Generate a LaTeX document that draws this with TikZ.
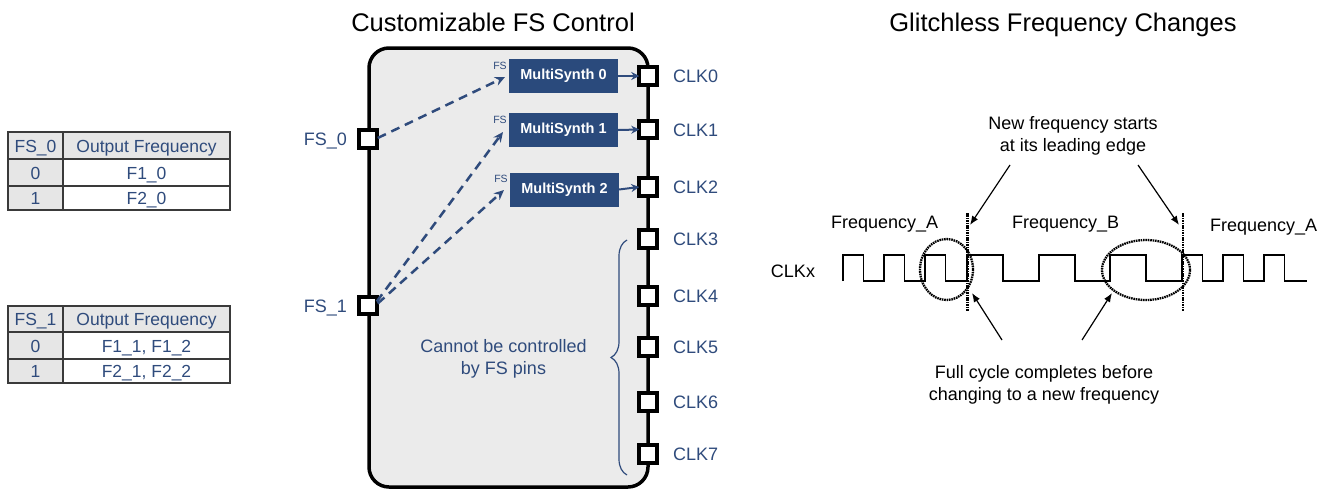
\documentclass[tikz,border=0pt]{standalone}
\usepackage{fontspec}
\setmainfont{Liberation Sans}
\usetikzlibrary{arrows.meta,calc,decorations.pathreplacing}
\definecolor{txtblue}{HTML}{2F4B7C}
\definecolor{msblue}{HTML}{2A4A7C}
\definecolor{blockgray}{HTML}{EBEBEB}
\definecolor{cellgray}{HTML}{E6E6E6}
\definecolor{tblline}{HTML}{3A3A3A}
\newcommand{\fsz}[1]{\fontsize{#1}{22}\selectfont}
\begin{document}
\begin{tikzpicture}[x=1pt,y=-1pt,
  every node/.style={inner sep=0pt, outer sep=0pt},
  chipbox/.style={draw=black, line width=3.5pt, fill=blockgray, rounded corners=20pt, minimum width=279pt, minimum height=439pt},
  pinbox/.style={draw=black, line width=3.6pt, fill=white, minimum size=17.5pt},
  lbl/.style={text=txtblue, font=\fsz{18}},
  msbox/.style={fill=msblue, text=white, font=\bfseries\fsz{14.5}, minimum width=109pt, minimum height=34pt},
  fstag/.style={text=txtblue, font=\fsz{10.5}},
  fsarrow/.style={draw=txtblue, line width=2.5pt, dash pattern=on 9pt off 6pt, -{Stealth[length=10pt,width=9pt]}},
  outarrow/.style={draw=txtblue, line width=2pt, -{Stealth[length=8pt,width=8pt]}},
  cell/.style={text=txtblue, font=\fsz{17.5}, anchor=base},
  blk/.style={font=\fsz{18}},
  ttl/.style={font=\fsz{25.5}, anchor=base},
  note/.style={-{Latex[length=9pt,width=7pt]}, line width=1.2pt},
  dottedline/.style={line width=2.3pt, dash pattern=on 1.6pt off 0.8pt},
]
\useasboundingbox (0,0) rectangle (1330,491);

% ---------- Tables ----------
\fill[cellgray] (8,132) rectangle (230,159);
\fill[cellgray] (8,159) rectangle (63,210);
\draw[tblline, line width=1.5pt] (8,132) rectangle (230,210) (8,159) -- (230,159) (8,186) -- (230,186) (63,132) -- (63,210);
\node[cell] (ta11) at (35.5,152) {FS\_0};
\node[cell] (ta12) at (146.5,152) {Output Frequency};
\node[cell] (ta21) at (35.5,179) {0};
\node[cell] (ta22) at (146.5,179) {F1\_0};
\node[cell] (ta31) at (35.5,204.5) {1};
\node[cell] (ta32) at (146.5,204.5) {F2\_0};

\fill[cellgray] (8,306) rectangle (230,332);
\fill[cellgray] (8,332) rectangle (63,383);
\draw[tblline, line width=1.5pt] (8,306) rectangle (230,383) (8,332) -- (230,332) (8,359) -- (230,359) (63,306) -- (63,383);
\node[cell] (tb11) at (35.5,325.5) {FS\_1};
\node[cell] (tb12) at (146.5,325.5) {Output Frequency};
\node[cell] (tb21) at (35.5,352) {0};
\node[cell] (tb22) at (146.5,352) {F1\_1, F1\_2};
\node[cell] (tb31) at (35.5,377.5) {1};
\node[cell] (tb32) at (146.5,377.5) {F2\_1, F2\_2};

% ---------- Block ----------
\node[ttl] (t1) at (493,31) {Customizable FS Control};
\node[chipbox] (chip) at (508.5,267.5) {};

\node[msbox] (ms0) at (563.5,76) {MultiSynth 0};
\node[msbox] (ms1) at (563.5,130) {MultiSynth 1};
\node[msbox] (ms2) at (564.5,189.5) {MultiSynth 2};
\node[fstag] (ms0fs) at ($(ms0.north west)+(-9,7)$) {FS};
\node[fstag] (ms1fs) at ($(ms1.north west)+(-9,7)$) {FS};
\node[fstag] (ms2fs) at ($(ms2.north west)+(-9,6)$) {FS};

\node[pinbox] (fs0) at (368,139) {};
\node[pinbox] (fs1) at (368,305.5) {};
\node[lbl, anchor=base east] (fs0l) at (347,145.5) {FS\_0};
\node[lbl, anchor=base east] (fs1l) at (347,312) {FS\_1};

\foreach \i/\y in {0/76,1/129.5,2/187,3/239,4/296,5/347,6/402,7/454}{
  \node[pinbox] (clk\i) at (648,\y) {};
  \node[lbl, anchor=base west] (clk\i l) at (673,\y+6.5) {CLK\i};
}

\draw[outarrow] (ms0.east) -- (clk0.west);
\draw[outarrow] (ms1.east) -- (clk1.west);
\draw[outarrow] (ms2.east) -- (clk2.west);

\draw[fsarrow] ($(fs0.east)+(1,-1)$) -- ($(ms0.west)+(-4,1)$);
\draw[fsarrow] ($(fs1.east)+(0,-4)$) -- ($(ms1.west)+(-6,2)$);
\draw[fsarrow] ($(fs1.east)+(1,-2)$) -- ($(ms2.west)+(-6,0.5)$);

\draw[txtblue, line width=1.2pt, decorate, decoration={brace, amplitude=16pt}] (627,475) -- (627,240);
\node[lbl, align=center, anchor=base] (nofs) at (503.5,374) {Cannot be controlled\\by FS pins};

% ---------- Glitchless ----------
\node[ttl] (t2) at (1063,31) {Glitchless Frequency Changes};
\node[blk, align=center, anchor=base] (newf) at (1073,151) {New frequency starts\\at its leading edge};
\node[blk, align=center, anchor=base] (fullc) at (1044,400) {Full cycle completes before\\changing to a new frequency};

\node[blk, anchor=base west] (fa1) at (831,228) {Frequency\_A};
\node[blk, anchor=base west] (fb) at (1012,228) {Frequency\_B};
\node[blk, anchor=base west] (fa2) at (1210,231) {Frequency\_A};
\node[blk, anchor=base east] (clkx) at (815,277.5) {CLKx};

\draw[line width=1.3pt] (843,281) |- (863.5,255) |- (884,281) |- (904.5,255) |- (925,281) |- (945.5,255) |- (967,281)
  |- (1003,255) |- (1039,281) |- (1075,255) |- (1110,281) |- (1146,255) |- (1182,281)
  |- (1202.5,255) |- (1223,281) |- (1243.5,255) |- (1264,281) |- (1284.5,255) |- (1307,281);

\draw[dottedline] (967.5,213) -- (967.5,311);
\draw[dottedline] (1183,213) -- (1183,311);
\draw[dottedline] (946.5,269.5) ellipse [x radius=26.5pt, y radius=30.5pt];
\draw[dottedline] (1146,270) ellipse [x radius=44pt, y radius=30pt];

\coordinate (a1s) at (1010,165);
\coordinate (a1e) at (970,225);
\coordinate (a2s) at (1138,165);
\coordinate (a2e) at (1179,225);
\coordinate (b1s) at (1002,340);
\coordinate (b1e) at (972,293);
\coordinate (b2s) at (1082,340);
\coordinate (b2e) at (1112,293);
\draw[note] (a1s) -- (a1e);
\draw[note] (a2s) -- (a2e);
\draw[note] (b1s) -- (b1e);
\draw[note] (b2s) -- (b2e);
\end{tikzpicture}
\end{document}
